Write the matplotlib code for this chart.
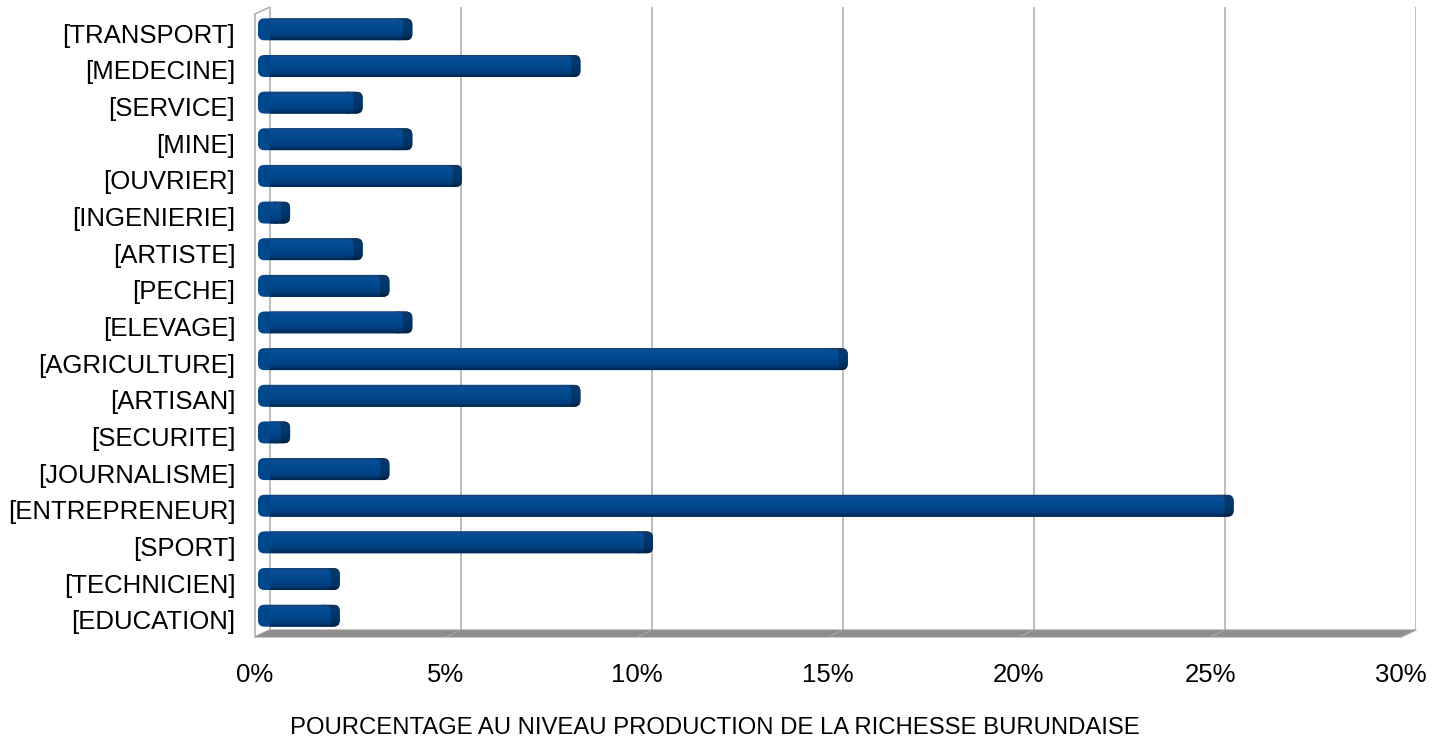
import matplotlib
matplotlib.use("Agg")
from matplotlib import pyplot as plt
from matplotlib import transforms as mtransforms
from matplotlib.patches import FancyBboxPatch, Polygon
from matplotlib.colors import LinearSegmentedColormap
import numpy as np

plt.rcParams['font.family'] = ['Liberation Sans', 'DejaVu Sans']

# categories from top to bottom, as on the chart
categories = ['[TRANSPORT]', '[MEDECINE]', '[SERVICE]', '[MINE]', '[OUVRIER]',
              '[INGENIERIE]', '[ARTISTE]', '[PECHE]', '[ELEVAGE]', '[AGRICULTURE]',
              '[ARTISAN]', '[SECURITE]', '[JOURNALISME]', '[ENTREPRENEUR]',
              '[SPORT]', '[TECHNICIEN]', '[EDUCATION]']
values = [3.8, 8.2, 2.5, 3.8, 5.1, 0.6, 2.5, 3.2, 3.8, 15.2,
          8.2, 0.6, 3.2, 25.3, 10.1, 1.9, 1.9]
xticks = [0, 5, 10, 15, 20, 25, 30]
xticklabels = ['0%', '5%', '10%', '15%', '20%', '25%', '30%']
xlabel = 'POURCENTAGE AU NIVEAU PRODUCTION DE LA RICHESSE BURUNDAISE'

W, H = 1442, 742
fig = plt.figure(figsize=(W / 100, H / 100), dpi=100)
left_px, right_px, top_px, bot_px = 270, 1416, 7, 630
ax = fig.add_axes([left_px / W, 1 - bot_px / H, (right_px - left_px) / W, (bot_px - top_px) / H])
ax_w = right_px - left_px
ax_h = bot_px - top_px

# decalage du plan avant (3D) en pixels
def shift(dx, dy):
    return mtransforms.ScaledTranslation(dx / 100, dy / 100, fig.dpi_scale_trans)

n = len(categories)
ypos = np.arange(n)

#? gradient pour les barres (haut -> bas)
bar_cmap = LinearSegmentedColormap.from_list(
    'bar3d', [(0, '#1c3f6a'), (0.1, '#0a4f98'), (0.45, '#00488e'), (0.8, '#003f7e'), (1, '#00254d')])
cap_cmap = LinearSegmentedColormap.from_list(
    'cap3d', [(0, '#16355c'), (0.3, '#003a73'), (0.8, '#00305f'), (1, '#001f40')])
grad = np.linspace(0, 1, 64).reshape(-1, 1)

bar_h = 0.6
cap_w = 0.24
bar_tr = ax.transData + shift(-12, -4)


def gradient_patch(x0, y0, w, h, cmap, z):
    patch = FancyBboxPatch((x0, y0), w, h, boxstyle='round,pad=0,rounding_size=0.17',
                           transform=bar_tr, facecolor=cmap(0.5), edgecolor='none',
                           clip_on=False, zorder=z)
    ax.add_patch(patch)
    im = ax.imshow(grad, extent=[x0, x0 + w, y0 + h, y0], aspect='auto', cmap=cmap,
                   origin='upper', transform=bar_tr, zorder=z + 0.1, interpolation='bilinear')
    im.set_clip_path(patch)
    im.set_clip_box(None)


for y, v in zip(ypos, values):
    y0 = y - bar_h / 2
    # bout arrondi (face de profondeur) a droite
    gradient_patch(max(v - 0.3, 0), y0, 0.3 + cap_w, bar_h, cap_cmap, 3)
    # corps de la barre
    gradient_patch(0, y0, v, bar_h, bar_cmap, 3.5)

ax.set_xlim(0, 30)
ax.set_ylim(n - 0.5, -0.5)

#? grille
for x in xticks[1:]:
    ax.axvline(x, color='#b3b3b3', linewidth=1.2, zorder=1)

for s in ax.spines.values():
    s.set_visible(False)

#? mur gauche
ddx, ddy = -15 / ax_w, -7 / ax_h
wall = Polygon([[0, 0], [0, 1], [ddx, 1 + ddy], [ddx, ddy]], closed=True,
               transform=ax.transAxes, facecolor='white', edgecolor='#b3b3b3',
               linewidth=1.2, clip_on=False, zorder=0.5)
ax.add_patch(wall)

#? sol
floor = Polygon([[0, 0], [1, 0], [1 + ddx, ddy], [ddx, ddy]], closed=True,
                transform=ax.transAxes, facecolor='#8c8c8c', edgecolor='#9a9a9a',
                linewidth=0.8, clip_on=False, zorder=2)
ax.add_patch(floor)
for x in xticks[1:]:
    xf = x / 30
    ax.plot([xf, xf + ddx], [0, ddy], transform=ax.transAxes, color='#a8a8a8',
            linewidth=0.8, clip_on=False, zorder=2.1)

#? axes et etiquettes
ax.set_yticks(ypos)
ax.set_yticklabels(categories, fontsize=18.5)
ax.tick_params(axis='y', length=0, pad=25)
for lab in ax.get_yticklabels():
    lab.set_transform(lab.get_transform() + shift(0, -8))

ax.set_xticks(xticks)
ax.set_xticklabels(xticklabels, fontsize=18.5)
ax.tick_params(axis='x', length=0, pad=24)
for lab in ax.get_xticklabels():
    lab.set_transform(lab.get_transform() + shift(-15, 0))

fig.text(715 / W, 1 - 728 / H, xlabel, fontsize=17.2, ha='center', va='center')

fig.savefig('out.png', dpi=100)
